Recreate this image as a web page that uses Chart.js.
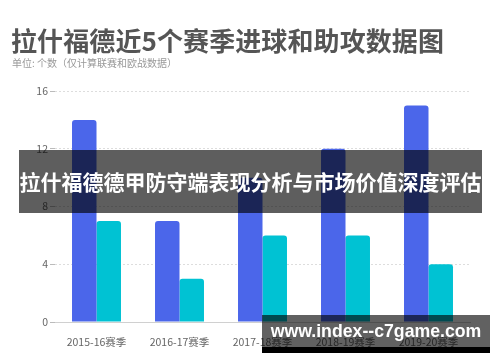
<!DOCTYPE html>
<html>
<head>
<meta charset="utf-8">
<script src="https://cdn.jsdelivr.net/npm/chart.js@4/dist/chart.umd.min.js"></script>
<style>
  html, body { margin:0; padding:0; background:#fff; }
  body { width:500px; height:362px; position:relative; overflow:hidden; font-family:"Noto Sans CJK SC","Noto Sans",sans-serif; }
  #title { position:absolute; left:11px; top:23px; font-size:26px; font-weight:bold; color:#555; white-space:nowrap; line-height:34px; letter-spacing:0.1px; }
  #sub { position:absolute; left:12px; top:55px; font-size:10px; color:#999; white-space:nowrap; line-height:16px; }
  #wrap { position:absolute; left:0; top:0; width:500px; height:362px; }
  #banner { position:absolute; left:19px; top:150px; width:463px; height:63px; background:rgba(0,0,0,0.63); color:#fff; font-weight:bold; font-size:21px; line-height:63px; text-align:center; white-space:nowrap; }
  #site { position:absolute; left:262px; top:315px; width:228px; height:32px; background:rgba(0,0,0,0.62); color:#fff; font-weight:bold; font-size:17.7px; line-height:33px; text-align:center; white-space:nowrap; font-family:"Liberation Sans","Arial",sans-serif; }
  #siteb { position:absolute; left:262px; top:347px; width:228px; height:6px; background:#000; }
</style>
</head>
<body>
<div id="wrap"><canvas id="c" width="500" height="362"></canvas></div>
<div id="title">拉什福德近5个赛季进球和助攻数据图</div>
<div id="sub">单位: 个数（仅计算联赛和欧战数据）</div>
<div id="banner">拉什福德德甲防守端表现分析与市场价值深度评估</div>
<div id="site">www.index--c7game.com</div>
<div id="siteb"></div>
<script>
const categories = ["2015-16赛季", "2016-17赛季", "2017-18赛季", "2018-19赛季", "2019-20赛季"];
const goals = [14, 7, 10, 12, 15];
const assists = [7, 3, 6, 6, 4];
const yTicks = [0, 4, 8, 12, 16];

new Chart(document.getElementById('c'), {
  type: 'bar',
  data: {
    labels: categories,
    datasets: [
      { label: '进球', data: goals, backgroundColor: '#4b66ea', borderRadius: 3, borderSkipped: 'start', barPercentage: 1, categoryPercentage: 0.59 },
      { label: '助攻', data: assists, backgroundColor: '#00c2d3', borderRadius: 3, borderSkipped: 'start', barPercentage: 1, categoryPercentage: 0.59 }
    ]
  },
  options: {
    responsive: false,
    animation: false,
    devicePixelRatio: 1,
    layout: { padding: { left: 0, right: 30, top: 91, bottom: 0 } },
    plugins: { legend: { display: false }, tooltip: { enabled: false }, title: { display: false } },
    scales: {
      x: {
        grid: { display: false },
        border: { display: true, color: '#d0d0d0', width: 1 },
        ticks: { color: '#666', font: { size: 10.5, family: '"Noto Sans CJK SC", sans-serif' }, padding: 6, maxRotation: 0 },
        afterFit: s => { s.height = 40; }
      },
      y: {
        min: 0, max: 16,
        afterBuildTicks: s => { s.ticks = yTicks.map(v => ({ value: v })); },
        grid: { color: '#dddddd', tickLength: 5, tickColor: '#bbbbbb', drawTicks: true, lineWidth: 1 },
        border: { display: false, dash: [2, 2] },
        ticks: { color: '#666', font: { size: 10.5, family: '"Noto Sans CJK SC", sans-serif' }, padding: 2 },
        afterFit: s => { s.width = 55; }
      }
    }
  }
});
</script>
</body>
</html>
